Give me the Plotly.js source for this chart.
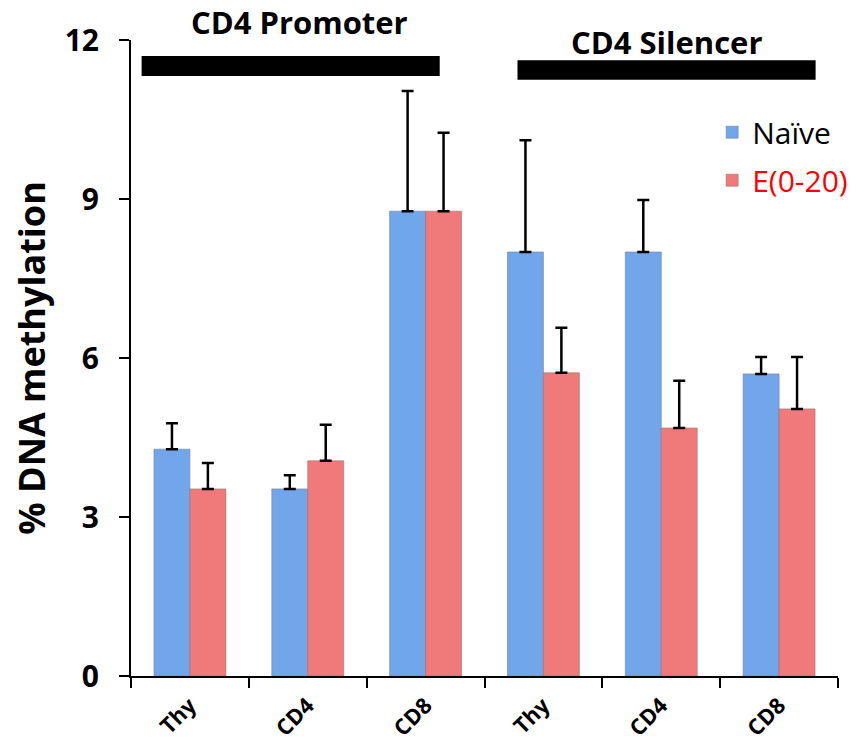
<!DOCTYPE html>
<html>
<head>
<meta charset="utf-8">
<script src="https://cdn.plot.ly/plotly-3.0.1.min.js"></script>
<style>html,body{margin:0;padding:0;background:#fff;}#chart{width:856px;height:745px;}</style>
</head>
<body>
<div id="chart"></div>
<script>
// Categories (region-cell); tick labels
const categories = ["P-Thy", "P-CD4", "P-CD8", "S-Thy", "S-CD4", "S-CD8"];
const tickLabels = ["Thy", "CD4", "CD8", "Thy", "CD4", "CD8"];
// % DNA methylation
const naiveValues = [4.28, 3.53, 8.77, 8.00, 8.00, 5.70];
const naiveErrTop = [4.77, 3.79, 11.04, 10.11, 8.98, 6.02];
const e020Values = [3.53, 4.06, 8.77, 5.72, 4.68, 5.04];
const e020ErrTop = [4.02, 4.74, 10.25, 6.57, 5.57, 6.02];
const regionLabels = ["CD4 Promoter", "CD4 Silencer"];

const FONT = "'Open Sans', 'DejaVu Sans', sans-serif";

const up = (tops, vals) => tops.map((t, i) => t - vals[i]);

const traces = [
  {
    type: "bar", x: categories, y: naiveValues, name: "Naïve", legendgroup: "a",
    marker: { color: "#72a6ea", line: { color: "rgba(110,130,160,0.6)", width: 1 } },
    error_y: { type: "data", symmetric: false, array: up(naiveErrTop, naiveValues),
      arrayminus: naiveValues.map(() => 0), color: "#000", thickness: 2.5, width: 6 }
  },
  {
    type: "bar", x: categories, y: e020Values,
    name: '<span style="color:#ff0000">E(0-20)</span>', legendgroup: "b",
    marker: { color: "#f07a7a", line: { color: "rgba(160,110,110,0.6)", width: 1 } },
    error_y: { type: "data", symmetric: false, array: up(e020ErrTop, e020Values),
      arrayminus: e020Values.map(() => 0), color: "#000", thickness: 2.5, width: 6 }
  }
];

const layout = {
  width: 856, height: 745,
  margin: { l: 131, r: 18, t: 40, b: 69, autoexpand: false },
  paper_bgcolor: "#fff", plot_bgcolor: "#fff",
  font: { family: FONT, color: "#000" },
  barmode: "group", bargap: 0.39, bargroupgap: 0,
  showlegend: true,
  legend: {
    x: 0.822, y: 0.896, xanchor: "left", yanchor: "top",
    font: { family: FONT, size: 30, color: "#000" },
    bgcolor: "rgba(0,0,0,0)", traceorder: "grouped", tracegroupgap: 6
  },
  xaxis: {
    type: "category", tickmode: "array", tickvals: categories, ticktext: tickLabels,
    tickson: "boundaries", ticks: "outside", ticklen: 10, tickwidth: 2, tickcolor: "#000",
    tickangle: -45, ticklabelstandoff: 6,
    tickfont: { family: FONT, size: 22, weight: "bold", color: "#000" },
    showline: true, linecolor: "#000", linewidth: 2, showgrid: false, zeroline: false,
    range: [-0.5, 5.5], automargin: false
  },
  yaxis: {
    range: [0, 12], tickvals: [0, 3, 6, 9, 12], ticks: "outside", ticklen: 10, tickwidth: 2,
    tickcolor: "#000", ticklabelstandoff: 14,
    tickfont: { family: FONT, size: 30, weight: "bold", color: "#000" },
    showline: true, linecolor: "#000", linewidth: 2, showgrid: false, zeroline: false,
    automargin: false,
    title: { text: "% DNA methylation", standoff: 8,
      font: { family: FONT, size: 36, weight: "bold", color: "#000" } }
  },
  shapes: [
    { type: "rect", xref: "x", yref: "y", x0: -0.41, x1: 2.12, y0: 11.32, y1: 11.70,
      fillcolor: "#000", line: { width: 0 } },
    { type: "rect", xref: "x", yref: "y", x0: 2.78, x1: 5.31, y0: 11.25, y1: 11.62,
      fillcolor: "#000", line: { width: 0 } }
  ],
  annotations: [
    { text: regionLabels[0], xref: "x", yref: "paper", x: 0.93, y: 1.028,
      xanchor: "center", yanchor: "middle", showarrow: false,
      font: { family: FONT, size: 31, weight: "bold", color: "#000" } },
    { text: regionLabels[1], xref: "x", yref: "paper", x: 4.05, y: 0.997,
      xanchor: "center", yanchor: "middle", showarrow: false,
      font: { family: FONT, size: 31, weight: "bold", color: "#000" } }
  ]
};

Plotly.newPlot("chart", traces, layout, { displayModeBar: false, staticPlot: true });
</script>
</body>
</html>
